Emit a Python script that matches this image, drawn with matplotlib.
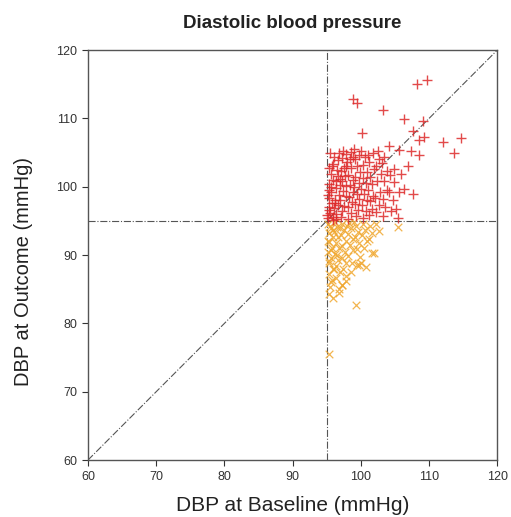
import matplotlib
matplotlib.use('Agg')
from matplotlib import pyplot as plt

plt.rcParams['font.family'] = ['Liberation Sans', 'DejaVu Sans']

# DBP at baseline / outcome, outcome >= 95 (red +)
red_x = [95.2, 95.5, 95.3, 95.8, 95.4, 96.0, 96.3, 96.1, 96.6, 96.2, 96.8, 95.7, 96.4, 95.3, 96.0, 95.6,
         96.5, 95.9, 96.7, 97.1, 97.3, 97.6, 97.0, 97.8, 97.4, 97.9, 97.2, 97.7, 97.1, 97.9, 97.3, 97.8,
         98.2, 98.5, 98.1, 98.7, 98.3, 98.9, 98.4, 98.8, 98.2, 98.6, 98.0, 98.9, 99.3, 99.6, 99.1, 99.8,
         99.4, 99.0, 99.7, 99.2, 99.9, 99.5, 99.1, 99.8, 100.3, 100.7, 100.2, 100.9, 100.5, 100.1, 100.8,
         100.4, 100.9, 100.3, 100.6, 101.2, 101.6, 101.3, 101.8, 101.1, 101.7, 101.4, 101.9, 101.2, 101.8,
         102.3, 102.6, 102.1, 102.8, 102.4, 102.9, 102.2, 102.7, 103.3, 103.6, 103.2, 103.8, 103.4, 103.9,
         103.1, 104.4, 104.7, 104.2, 104.8, 104.3, 105.2, 105.4, 105.6, 105.9, 104.9, 103.4, 104.2, 105.6,
         107.4, 108.6, 106.9, 106.4, 107.6, 108.6, 109.3, 107.6, 108.3, 109.7, 98.8, 99.5, 103.3, 106.4,
         109.1, 100.2, 112.0, 114.7, 113.6, 95.1, 95.4, 95.9, 96.4, 95.2, 95.6, 96.9, 96.3, 95.4, 96.1,
         95.5, 96.8, 97.4, 98.5, 99.0, 100.1, 101.0, 102.5, 96.6, 97.5, 95.3, 96.2, 97.0, 95.8, 98.4]
red_y = [95.4, 96.1, 97.0, 97.6, 98.3, 95.2, 96.0, 96.9, 97.4, 98.1, 98.8, 99.2, 99.8, 100.4, 101.0, 101.9,
         102.5, 103.3, 103.9, 95.6, 96.4, 97.2, 98.0, 98.6, 99.4, 100.1, 100.8, 101.6, 102.3, 103.0, 104.2, 104.8,
         95.3, 96.2, 97.0, 97.8, 98.5, 99.3, 100.2, 101.0, 101.8, 102.7, 103.6, 104.3, 95.8, 96.6, 97.5, 98.2,
         99.0, 99.9, 100.6, 101.4, 102.2, 103.1, 104.0, 104.7, 95.5, 96.4, 97.3, 98.0, 98.9, 99.7, 100.5,
         101.3, 102.1, 103.2, 104.4, 95.9, 96.8, 97.9, 98.7, 99.6, 100.4, 101.5, 102.6, 103.7, 105.0,
         96.3, 97.4, 98.4, 99.3, 100.8, 101.9, 103.0, 104.1, 95.7, 97.0, 98.2, 99.6, 100.9, 102.3,
         103.5, 96.5, 98.0, 99.3, 100.7, 101.8, 96.7, 95.5, 99.2, 101.9, 102.6, 104.3, 105.9, 105.4,
         105.3, 104.6, 103.1, 99.7, 98.9, 106.8, 107.3, 108.1, 115.0, 115.7, 112.9, 112.2, 111.3, 109.9,
         109.7, 107.9, 106.5, 107.2, 104.9, 95.9, 96.6, 95.6, 95.3, 98.8, 100.0, 100.3, 100.9, 102.8, 104.4,
         104.9, 105.0, 105.3, 105.1, 105.6, 105.2, 104.6, 105.2, 101.6, 102.8, 99.5, 97.7, 101.2, 103.0, 104.0]

# outcome < 95 (orange x)
orange_x = [95.2, 95.6, 95.3, 95.9, 95.4, 95.8, 95.2, 95.7, 95.3, 95.9, 95.4, 95.8, 95.5, 96.2, 96.5, 96.1,
            96.7, 96.3, 96.8, 96.2, 96.6, 96.4, 96.9, 96.3, 96.8, 97.2, 97.6, 97.1, 97.8, 97.3, 97.7, 97.2,
            97.9, 97.4, 97.8, 97.3, 98.3, 98.6, 98.1, 98.8, 98.4, 98.9, 98.2, 98.7, 98.5, 99.3, 99.6, 99.2,
            99.8, 99.4, 99.9, 99.5, 100.3, 100.6, 100.2, 100.9, 100.5, 100.1, 100.8, 101.3, 101.7, 101.2,
            101.7, 102.2, 102.6, 105.4, 99.3, 95.4, 96.8, 95.6, 96.0, 95.3, 97.9, 97.3, 95.5, 96.0, 95.2,
            95.7, 96.5, 95.3, 96.1, 97.0, 98.0, 99.0, 102.0, 99.8]
orange_y = [94.6, 94.0, 93.3, 92.6, 91.9, 91.1, 90.4, 89.6, 88.8, 88.0, 87.2, 86.3, 85.4, 94.8, 94.1, 93.4,
            92.7, 91.8, 91.0, 90.2, 89.3, 88.4, 87.6, 86.6, 85.0, 94.5, 93.7, 92.9, 92.1, 91.3, 90.5, 89.6,
            88.8, 87.9, 86.9, 85.7, 94.7, 93.9, 93.1, 92.4, 91.5, 90.7, 89.9, 88.9, 87.6, 94.3, 93.4, 92.6,
            91.8, 90.9, 89.8, 88.6, 94.6, 93.7, 92.9, 92.0, 91.1, 88.8, 88.3, 94.2, 93.3, 92.4,
            90.3, 94.5, 93.6, 94.1, 82.7, 75.6, 84.5, 86.0, 83.8, 84.3, 86.2, 85.7, 94.2, 93.7, 92.0,
            90.8, 90.0, 89.2, 87.9, 94.0, 94.2, 94.8, 90.3, 88.6]

ref = 95
lims = [60, 120]
ticks = [60, 70, 80, 90, 100, 110, 120]

fig = plt.figure(figsize=(5.11, 5.17), dpi=100)
ax = fig.add_axes([0.172, 0.110, 0.801, 0.793])

line_kw = dict(color='#555555', ls='-.', lw=0.8, zorder=1)
ax.plot(lims, lims, **line_kw)
ax.axvline(ref, **line_kw)
ax.axhline(ref, **line_kw)

ax.scatter(orange_x, orange_y, marker='x', s=30, color='#f0a830', linewidths=0.9, alpha=0.85, zorder=2)
ax.scatter(red_x, red_y, marker='+', s=55, color='#dd2a2a', linewidths=1.0, alpha=0.85, zorder=3)

ax.set_xlim(lims)
ax.set_ylim(lims)
ax.set_xticks(ticks)
ax.set_yticks(ticks)
ax.tick_params(direction='out', length=4, labelsize=9, colors='#333333')
for s in ax.spines.values():
    s.set_color('#555555')
    s.set_linewidth(1.0)

ax.set_title('Diastolic blood pressure', fontsize=13.5, fontweight='bold', color='#222222', pad=16)
ax.set_xlabel('DBP at Baseline (mmHg)', fontsize=15, color='#222222', labelpad=10)
ax.set_ylabel('DBP at Outcome (mmHg)', fontsize=14.5, color='#222222')
ax.yaxis.set_label_coords(-0.135, 0.46)

fig.savefig('out.png', dpi=100)
